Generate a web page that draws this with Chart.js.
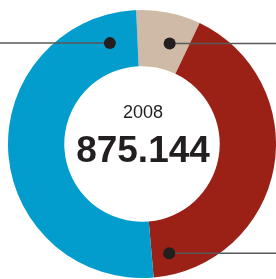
<!DOCTYPE html>
<html>
<head>
<meta charset="utf-8">
<script src="https://cdn.jsdelivr.net/npm/chart.js@4/dist/chart.umd.min.js"></script>
<style>
  html, body { margin: 0; padding: 0; background: #ffffff; }
  #wrap { position: relative; width: 276px; height: 279px; }
</style>
</head>
<body>
<div id="wrap"><canvas id="c" width="276" height="279"></canvas></div>
<script>
// Data
const categories = ["Segment A", "Segment B", "Segment C"];
const values = [68000, 363500, 443644];
const colors = ["#cfbaa8", "#9b2116", "#029dcc"];
const yearLabel = "2008";
const totalLabel = "875.144";

// Callout styling: where on each slice the dot sits (fraction along arc, fraction across ring) and the side of its leader line
const calloutAngleFrac = [0.64, 0.94, 0.917];
const calloutRadiusFrac = [0.47, 0.62, 0.5];
const calloutSide = ["right", "right", "left"];

const calloutPlugin = {
  id: "callouts",
  afterDatasetsDraw(chart) {
    const ctx = chart.ctx;
    const meta = chart.getDatasetMeta(0);
    meta.data.forEach((arc, i) => {
      const p = arc.getProps(["x", "y", "startAngle", "endAngle", "innerRadius", "outerRadius"], true);
      const a = p.startAngle + (p.endAngle - p.startAngle) * calloutAngleFrac[i];
      const r = p.innerRadius + (p.outerRadius - p.innerRadius) * calloutRadiusFrac[i];
      const dx = p.x + r * Math.cos(a);
      const dy = p.y + r * Math.sin(a);
      ctx.save();
      ctx.strokeStyle = "#5a5859";
      ctx.lineWidth = 1.5;
      ctx.beginPath();
      ctx.moveTo(dx, dy);
      ctx.lineTo(calloutSide[i] === "left" ? 0 : chart.width, dy);
      ctx.stroke();
      ctx.fillStyle = "#231f20";
      ctx.beginPath();
      ctx.arc(dx, dy, 6, 0, Math.PI * 2);
      ctx.fill();
      ctx.restore();
    });
  }
};

const centerTextPlugin = {
  id: "centerText",
  afterDraw(chart) {
    const ctx = chart.ctx;
    const arc = chart.getDatasetMeta(0).data[0];
    const cx = arc.x, cy = arc.y;
    ctx.save();
    ctx.fillStyle = "#231f20";
    ctx.textAlign = "center";
    ctx.textBaseline = "alphabetic";
    ctx.font = "18px 'Liberation Sans', Arial, sans-serif";
    ctx.fillText(yearLabel, cx + 1, cy - 26);
    ctx.font = "bold 37px 'Liberation Sans', Arial, sans-serif";
    ctx.fillText(totalLabel, cx + 1, cy + 18);
    ctx.restore();
  }
};

new Chart(document.getElementById("c"), {
  type: "doughnut",
  data: {
    labels: categories,
    datasets: [{
      data: values,
      backgroundColor: colors,
      borderWidth: 0,
      hoverOffset: 0
    }]
  },
  options: {
    responsive: false,
    animation: false,
    rotation: -2.5,
    cutout: "58%",
    events: [],
    layout: { padding: { left: 8, right: 0, top: 10, bottom: 1 } },
    plugins: {
      legend: { display: false },
      tooltip: { enabled: false }
    }
  },
  plugins: [calloutPlugin, centerTextPlugin]
});
</script>
</body>
</html>
